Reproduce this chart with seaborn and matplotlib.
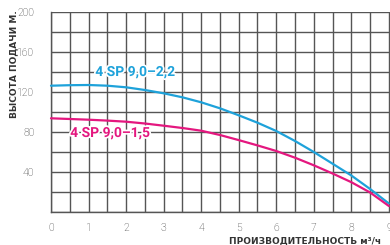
import matplotlib
matplotlib.use("Agg")
import matplotlib.pyplot as plt
import matplotlib.patheffects as pe
import seaborn as sns
import pandas as pd
import numpy as np

# Data
flow = [0, 0.5, 1, 1.5, 2, 2.5, 3, 3.5, 4, 4.5, 5, 5.5, 6, 6.5, 7, 7.5, 8, 8.5, 9]
head_22 = [126.3, 126.8, 127, 126.3, 124.7, 122, 118.7, 114.7, 109.7, 103.7,
           96.7, 89.3, 81, 71, 60, 48.3, 36.5, 23, 8.5]
head_15 = [93.7, 93, 92.3, 91.4, 90.3, 88.5, 86.3, 84, 81.3, 77, 71.9, 66.6,
           61, 54.3, 46.7, 38.5, 29.8, 19.5, 6]
label_22 = "4 SP 9,0–2,2"
label_15 = "4 SP 9,0–1,5"
x_ticks = [0, 1, 2, 3, 4, 5, 6, 7, 8, 9]
y_ticks = [0, 40, 80, 120, 160, 200]
y_tick_labels = ["", "40", "80", "120", "160", "200"]
x_label = "ПРОИЗВОДИТЕЛЬНОСТЬ м³/ч"
y_label = "ВЫСОТА ПОДАЧИ М."

blue = "#1ea2da"
pink = "#e4177f"
grid_c = "#555555"

sns.set_style("white")
plt.rcParams["font.family"] = ["Roboto", "DejaVu Sans"]

fig = plt.figure(figsize=(3.9, 2.45), dpi=100)
ax = fig.add_axes([51 / 390, 1 - 212 / 245, 1 - 51 / 390, 200 / 245])

df = pd.DataFrame({
    "flow": flow * 2,
    "head": head_22 + head_15,
    "model": [label_22] * len(flow) + [label_15] * len(flow),
})

ax.set_xlim(0, 9.03)
ax.set_ylim(0, 200)

# grid
ax.set_xticks(np.arange(0, 9.01, 0.5), minor=True)
ax.set_yticks(np.arange(0, 201, 20), minor=True)
ax.grid(which="minor", color=grid_c, linewidth=1.0)
ax.grid(which="major", color=grid_c, linewidth=1.0)
ax.set_axisbelow(True)

sns.lineplot(data=df, x="flow", y="head", hue="model",
             palette={label_22: blue, label_15: pink}, ax=ax,
             linewidth=1.6, legend=False, clip_on=False, zorder=3)

ax.set_xticks(x_ticks)
ax.set_yticks(y_ticks)
ax.set_yticklabels(y_tick_labels)
ax.tick_params(axis="x", which="major", length=5, width=1.0, color=grid_c,
               pad=3, labelsize=7.5, labelcolor="#333333")
ax.tick_params(axis="y", which="major", length=10, width=1.0, color=grid_c,
               pad=2, labelsize=7.5, labelcolor="#333333")
ax.tick_params(which="minor", length=0)
for lab in ax.get_xticklabels() + ax.get_yticklabels():
    lab.set_fontweight("light")

for s in ["top", "right"]:
    ax.spines[s].set_visible(False)
for s in ["left", "bottom"]:
    ax.spines[s].set_color(grid_c)
    ax.spines[s].set_linewidth(1.0)

ax.set_xlabel("")
ax.set_ylabel("")

stroke = [pe.withStroke(linewidth=2.5, foreground="white")]
ax.text(2.24, 140, label_22, color=blue, fontsize=10, fontweight="bold",
        ha="center", va="center", path_effects=stroke, zorder=4)
ax.text(1.57, 79, label_15, color=pink, fontsize=10, fontweight="bold",
        ha="center", va="center", path_effects=stroke, zorder=4)

fig.text(14 / 390, 1 - 10 / 245, y_label, rotation=90, ha="center", va="top",
         fontsize=6.5, fontweight="bold", color="#333333",
         family=["DejaVu Sans"])
fig.text(229 / 390, 1 - 241 / 245, x_label, ha="left", va="center",
         fontsize=6.5, fontweight="bold", color="#333333",
         family=["DejaVu Sans"])

fig.savefig("out.png", dpi=100)
